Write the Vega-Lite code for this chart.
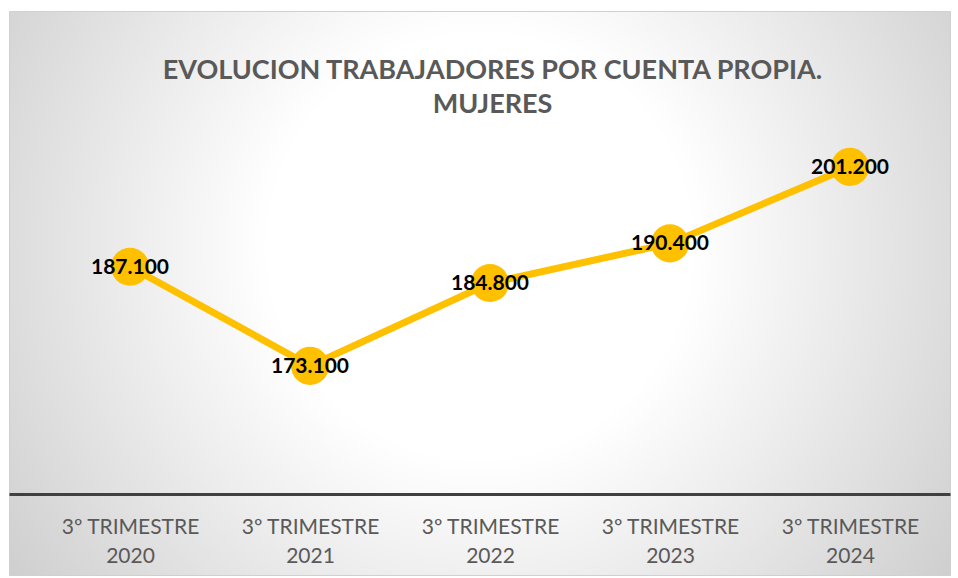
{
  "$schema": "https://vega.github.io/schema/vega-lite/v6.json",
  "width": 941,
  "height": 564,
  "padding": {"left": 9, "top": 11, "right": 8, "bottom": 3},
  "autosize": {"type": "none"},
  "background": "#ffffff",
  "config": {
    "locale": {"number": {"decimal": ",", "thousands": ".", "grouping": [3], "currency": ["", " €"]}},
    "view": {
      "stroke": "#d0d0d0",
      "strokeWidth": 1,
      "fill": {
        "gradient": "radial",
        "x1": 0.5, "y1": 0.45, "r1": 0,
        "x2": 0.5, "y2": 0.45, "r2": 0.75,
        "stops": [
          {"offset": 0, "color": "#ffffff"},
          {"offset": 0.3, "color": "#ffffff"},
          {"offset": 1, "color": "#bdbdbd"}
        ]
      }
    }
  },
  "title": {
    "text": ["EVOLUCION TRABAJADORES POR CUENTA PROPIA.", "MUJERES"],
    "anchor": "middle",
    "frame": "group",
    "offset": -108,
    "dx": 13,
    "font": "Lato",
    "fontSize": 27,
    "fontWeight": "bold",
    "color": "#595959",
    "lineHeight": 34
  },
  "data": {
    "values": [
      {"periodo": "3º TRIMESTRE 2020", "valor": 187100},
      {"periodo": "3º TRIMESTRE 2021", "valor": 173100},
      {"periodo": "3º TRIMESTRE 2022", "valor": 184800},
      {"periodo": "3º TRIMESTRE 2023", "valor": 190400},
      {"periodo": "3º TRIMESTRE 2024", "valor": 201200}
    ]
  },
  "encoding": {
    "x": {
      "field": "periodo",
      "type": "nominal",
      "sort": null,
      "scale": {"type": "point", "padding": 0.614, "align": 0.5475},
      "axis": {
        "title": null,
        "orient": "bottom",
        "offset": -81,
        "ticks": false,
        "grid": false,
        "domainColor": "#404040",
        "domainWidth": 3,
        "labelAngle": 0,
        "labelFont": "Lato",
        "labelFontSize": 21,
        "labelColor": "#595959",
        "labelLineHeight": 29,
        "labelPadding": 22,
        "labelExpr": "[slice(datum.label, 0, 12), slice(datum.label, 13)]"
      }
    },
    "y": {
      "field": "valor",
      "type": "quantitative",
      "scale": {"domain": [143560, 223220], "zero": false, "nice": false},
      "axis": null
    }
  },
  "layer": [
    {"mark": {"type": "line", "color": "#FFC000", "strokeWidth": 7}},
    {"mark": {"type": "point", "filled": true, "opacity": 1, "color": "#FFC000", "size": 1450}},
    {
      "mark": {"type": "text", "font": "Lato", "fontSize": 21, "fontWeight": "bold", "color": "#000000", "align": "center", "baseline": "middle", "dy": 1},
      "encoding": {"text": {"field": "valor", "type": "quantitative", "format": ",d"}}
    }
  ]
}
